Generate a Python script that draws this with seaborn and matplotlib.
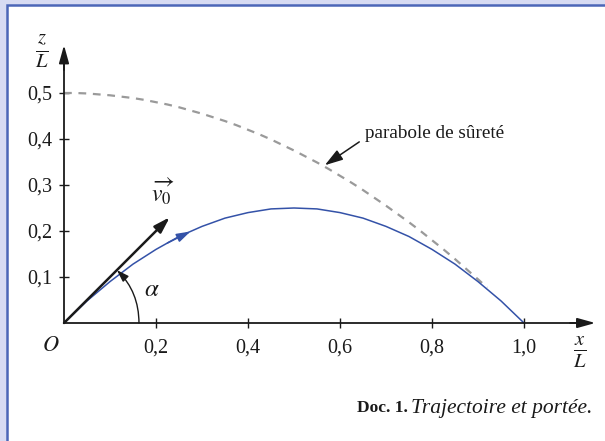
import numpy             as np
import seaborn           as sns
import matplotlib.pyplot as plt
from matplotlib.patches  import Rectangle

#####

# Values

x_traj = [0.000, 0.025, 0.050, 0.075, 0.100, 0.125, 0.150, 0.175, 0.200, 0.225, 0.250,
          0.275, 0.300, 0.325, 0.350, 0.375, 0.400, 0.425, 0.450, 0.475, 0.500,
          0.525, 0.550, 0.575, 0.600, 0.625, 0.650, 0.675, 0.700, 0.725, 0.750,
          0.775, 0.800, 0.825, 0.850, 0.875, 0.900, 0.925, 0.950, 0.975, 1.000]
z_traj = [0.000, 0.024, 0.048, 0.069, 0.090, 0.109, 0.128, 0.144, 0.160, 0.174, 0.188,
          0.199, 0.210, 0.219, 0.228, 0.234, 0.240, 0.244, 0.248, 0.249, 0.250,
          0.249, 0.248, 0.244, 0.240, 0.234, 0.228, 0.219, 0.210, 0.199, 0.188,
          0.174, 0.160, 0.144, 0.128, 0.109, 0.090, 0.069, 0.048, 0.024, 0.000]

x_safe = [0.000, 0.025, 0.050, 0.075, 0.100, 0.125, 0.150, 0.175, 0.200, 0.225, 0.250,
          0.275, 0.300, 0.325, 0.350, 0.375, 0.400, 0.425, 0.450, 0.475, 0.500,
          0.525, 0.550, 0.575, 0.600, 0.625, 0.650, 0.675, 0.700, 0.725, 0.750,
          0.775, 0.800, 0.825, 0.850, 0.875, 0.900, 0.920]
z_safe = [0.500, 0.500, 0.499, 0.497, 0.495, 0.492, 0.489, 0.485, 0.480, 0.475, 0.469,
          0.462, 0.455, 0.447, 0.439, 0.430, 0.420, 0.410, 0.399, 0.387, 0.375,
          0.362, 0.349, 0.335, 0.320, 0.305, 0.289, 0.272, 0.255, 0.237, 0.219,
          0.200, 0.180, 0.160, 0.139, 0.117, 0.095, 0.077]

x_ticks  = [0.2, 0.4, 0.6, 0.8, 1.0]
x_labels = ["0,2", "0,4", "0,6", "0,8", "1,0"]
z_ticks  = [0.1, 0.2, 0.3, 0.4, 0.5]
z_labels = ["0,1", "0,2", "0,3", "0,4", "0,5"]

v0_tip   = (0.23, 0.23)

#####

sns.set_theme(style = "white")
plt.rcParams["font.family"]      = ["Liberation Serif", "DejaVu Serif"]
plt.rcParams["mathtext.fontset"] = "stix"

blue  = "#3452a8"
grey  = "#9a9a9a"
ink   = "#1a1a1a"

W, H = 605, 441
fig  = plt.figure(figsize = (W / 100, H / 100), dpi = 100, facecolor = "#d7dbf3")

# white panel with blue border
fig.patches.append(Rectangle((7 / W, -0.05), 1.1, 1 - 5 / H + 0.05, transform = fig.transFigure,
                             facecolor = "white", edgecolor = "#4c66b8", linewidth = 1.8, zorder = -5))

# origin at pixel (64, 323), 460 px per unit on both axes
ox, oy, k = 64, 323, 460
ax = fig.add_axes([0, 0, 1, 1])
ax.set_zorder(2)
ax.set_facecolor("none")
ax.set_xlim(-ox / k, (W - ox) / k)
ax.set_ylim(-(H - oy) / k, oy / k)

# axes
for side in ["top", "right"]:
    ax.spines[side].set_visible(False)
ax.spines["bottom"].set_position(("data", 0))
ax.spines["left"].set_position(("data", 0))
ax.spines["bottom"].set_bounds(0, 1.13)
ax.spines["left"].set_bounds(0, 0.58)
for side in ["bottom", "left"]:
    ax.spines[side].set_color(ink)
    ax.spines[side].set_linewidth(1.3)

ax.set_xticks(x_ticks)
ax.set_xticklabels(x_labels)
ax.set_yticks(z_ticks)
ax.set_yticklabels(z_labels)
ax.tick_params(axis = "x", bottom = True, direction = "inout", length = 7, width = 1, color = ink, pad = 8, labelsize = 14.5, labelcolor = ink)
ax.tick_params(axis = "y", left = True, direction = "inout", length = 7, width = 1, color = ink, pad = 5, labelsize = 14.5, labelcolor = ink)

head = dict(arrowstyle = "-|>,head_length=0.9,head_width=0.25", color = ink, lw = 1.3, shrinkA = 0, shrinkB = 0)
ax.annotate("", xy = (1.155, 0), xytext = (1.10, 0), arrowprops = head)
ax.annotate("", xy = (0, 0.604), xytext = (0, 0.55), arrowprops = head)

# curves
sns.lineplot(x = x_safe, y = z_safe, ax = ax, color = grey, linewidth = 1.6, linestyle = (0, (3.5, 3)), estimator = None, sort = False)
sns.lineplot(x = x_traj, y = z_traj, ax = ax, color = blue, linewidth = 1.1, estimator = None, sort = False)
ax.annotate("", xy = (x_traj[11], z_traj[11]), xytext = (x_traj[9], z_traj[9]),
            arrowprops = dict(arrowstyle = "-|>,head_length=0.7,head_width=0.22", color = blue, lw = 1.1, shrinkA = 0, shrinkB = 0))

# initial velocity vector and angle
ax.annotate("", xy = v0_tip, xytext = (0, 0),
            arrowprops = dict(arrowstyle = "-|>,head_length=0.8,head_width=0.25", color = ink, lw = 1.8, shrinkA = 0, shrinkB = 0))
ax.annotate("", xy = (0.115, 0.115), xytext = (0.163, 0),
            arrowprops = dict(arrowstyle = "-|>,head_length=0.6,head_width=0.2", color = ink, lw = 1.0,
                              shrinkA = 0, shrinkB = 0, connectionstyle = "arc3,rad=0.207"))
ax.text(0.215, 0.285, r"$\overrightarrow{v_0}$", fontsize = 17, color = ink, ha = "center", va = "center")
ax.text(0.192, 0.072, r"$\alpha$", fontsize = 18, color = ink, ha = "center", va = "center")

# labels
ax.text(-0.029, -0.052, r"$O$", fontsize = 16, color = ink, ha = "center", va = "center")
ax.text(1.122, -0.063, r"$\frac{x}{L}$", fontsize = 21, color = ink, ha = "center", va = "center")
ax.text(-0.048, 0.59, r"$\frac{z}{L}$", fontsize = 21, color = ink, ha = "center", va = "center")

ax.annotate("parabole de sûreté", xy = (0.567, 0.343), xytext = (0.654, 0.413),
            fontsize = 13.8, color = ink, ha = "left", va = "center",
            arrowprops = dict(arrowstyle = "-|>,head_length=0.8,head_width=0.25", color = ink, lw = 1.1,
                              shrinkA = 2, shrinkB = 0, relpos = (0, 0.2)))

# caption
fig.text(408 / W, 1 - 408 / H, "Doc. 1.", fontsize = 12.5, fontweight = "bold", color = ink, ha = "right", va = "center")
fig.text(411 / W, 1 - 408 / H, "Trajectoire et portée.", fontsize = 15.5, style = "italic", color = ink, ha = "left", va = "center")

fig.savefig("out.png", dpi = 100, facecolor = fig.get_facecolor())
